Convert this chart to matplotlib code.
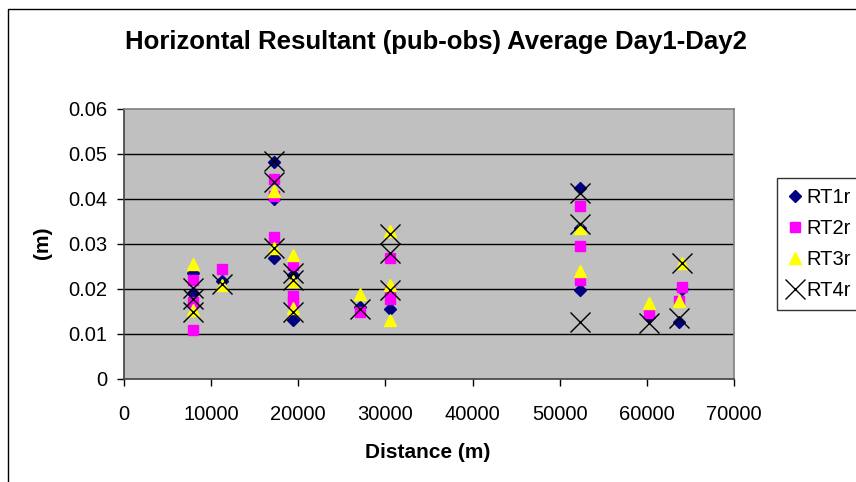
import matplotlib
matplotlib.use("Agg")
import matplotlib.pyplot as plt
from matplotlib.patches import Rectangle
from matplotlib.lines import Line2D

plt.rcParams['font.family'] = ['Liberation Sans', 'DejaVu Sans']

# ---- data ----
rt1_x = [7900, 7900, 11300, 17200, 17200, 17200, 19450, 19450, 27100, 30500,
         52300, 52300, 52300, 60300, 63700, 64000]
rt1_y = [0.0235, 0.0190, 0.0216, 0.0483, 0.0399, 0.0269, 0.0231, 0.0131, 0.0159, 0.0155,
         0.0425, 0.0335, 0.0196, 0.0138, 0.0125, 0.0200]

rt2_x = [7900, 7900, 7900, 11300, 17200, 17200, 17200, 19450, 19450, 19450, 27100,
         30500, 30500, 30500, 52300, 52300, 52300, 60300, 63700, 64000]
rt2_y = [0.0220, 0.0170, 0.0108, 0.0244, 0.0444, 0.0407, 0.0314, 0.0252, 0.0183, 0.0170, 0.0149,
         0.0269, 0.0193, 0.0176, 0.0383, 0.0296, 0.0220, 0.0146, 0.0172, 0.0203]

rt3_x = [7900, 7900, 11300, 17200, 17200, 19450, 19450, 19450, 27100,
         30500, 30500, 30500, 52300, 52300, 60300, 63700, 64000]
rt3_y = [0.0254, 0.0153, 0.0209, 0.0418, 0.0290, 0.0276, 0.0216, 0.0157, 0.0189,
         0.0328, 0.0209, 0.0131, 0.0336, 0.0239, 0.0167, 0.0172, 0.0258]

rt4_x = [7900, 7900, 7900, 11300, 17200, 17200, 17200, 19450, 19450, 19450, 27100,
         30500, 30500, 30500, 52300, 52300, 52300, 60300, 63700, 64000]
rt4_y = [0.0202, 0.0176, 0.0149, 0.0211, 0.0485, 0.0437, 0.0291, 0.0235, 0.0220, 0.0149, 0.0155,
         0.0321, 0.0280, 0.0198, 0.0414, 0.0343, 0.0125, 0.0123, 0.0135, 0.0258]

series_names = ['RT1r', 'RT2r', 'RT3r', 'RT4r']
x_ticks = [0, 10000, 20000, 30000, 40000, 50000, 60000, 70000]
y_ticks = [0, 0.01, 0.02, 0.03, 0.04, 0.05, 0.06]
y_tick_labels = ['0', '0.01', '0.02', '0.03', '0.04', '0.05', '0.06']

title = 'Horizontal Resultant (pub-obs) Average Day1-Day2'
x_label = 'Distance (m)'
y_label = '(m)'

# ---- figure ----
W, H = 856, 482
fig = plt.figure(figsize=(W / 100, H / 100), dpi=100)
fig.patch.set_facecolor('white')

# outer chart border (extends past right/bottom edges)
fig.add_artist(Rectangle((8 / W, -0.05), 1.2, (1 - 9 / H) + 0.05, transform=fig.transFigure,
                         fill=False, edgecolor='black', linewidth=1.0))

ax_l, ax_r, ax_t, ax_b = 124, 734, 109, 378.5
ax = fig.add_axes([ax_l / W, 1 - ax_b / H, (ax_r - ax_l) / W, (ax_b - ax_t) / H])
ax.set_facecolor('#C0C0C0')
ax.set_xlim(0, 70000)
ax.set_ylim(0, 0.06)

for yv in y_ticks[1:-1]:
    ax.axhline(yv, color='black', linewidth=1.0, zorder=1)

for s in ['top', 'right']:
    ax.spines[s].set_color('#808080')
    ax.spines[s].set_linewidth(1.2)
for s in ['left', 'bottom']:
    ax.spines[s].set_color('#404040')
    ax.spines[s].set_linewidth(1.2)

ax.set_xticks(x_ticks)
ax.set_xticklabels([str(v) for v in x_ticks])
ax.set_yticks(y_ticks)
ax.set_yticklabels(y_tick_labels)
ax.tick_params(axis='both', direction='out', length=5, width=1, color='black', labelsize=14.5)
ax.tick_params(axis='x', pad=14)
ax.tick_params(axis='y', pad=7)

d_ms, s_ms, t_ms, x_ms = 6, 6.5, 8.5, 15

ax.plot(rt1_x, rt1_y, ls='none', marker='D', markersize=d_ms, color='#000080',
        markeredgecolor='#000080', zorder=3, label=series_names[0])
ax.plot(rt2_x, rt2_y, ls='none', marker='s', markersize=s_ms, color='#FF00FF',
        markeredgecolor='#FF00FF', zorder=4, label=series_names[1])
ax.plot(rt3_x, rt3_y, ls='none', marker='^', markersize=t_ms, color='#FFFF00',
        markeredgecolor='#FFFF00', zorder=5, label=series_names[2])
ax.plot(rt4_x, rt4_y, ls='none', marker='x', markersize=x_ms, color='black',
        markeredgewidth=1.0, zorder=6, label=series_names[3])

fig.text(436 / W, 1 - 42 / H, title, ha='center', va='center', fontsize=18.5, fontweight='bold')
fig.text(428 / W, 1 - 452 / H, x_label, ha='center', va='center', fontsize=15, fontweight='bold')
fig.text(42.5 / W, 1 - 243 / H, y_label, ha='center', va='center', fontsize=15, fontweight='bold',
         rotation=90)

handles = [
    Line2D([], [], ls='none', marker='D', markersize=d_ms, color='#000080'),
    Line2D([], [], ls='none', marker='s', markersize=s_ms, color='#FF00FF'),
    Line2D([], [], ls='none', marker='^', markersize=t_ms, color='#FFFF00'),
    Line2D([], [], ls='none', marker='x', markersize=x_ms, color='black', markeredgewidth=1.0),
]
leg = fig.legend(handles, series_names, loc='upper left', bbox_to_anchor=(777 / W, 1 - 177.5 / H),
                 bbox_transform=fig.transFigure, frameon=True, fancybox=False, fontsize=14.5,
                 handlelength=0.75, handletextpad=0.2, labelspacing=0.6, borderpad=0.5,
                 borderaxespad=0.0)
leg.get_frame().set_edgecolor('black')
leg.get_frame().set_linewidth(1.0)

fig.savefig('out.png', dpi=100)
